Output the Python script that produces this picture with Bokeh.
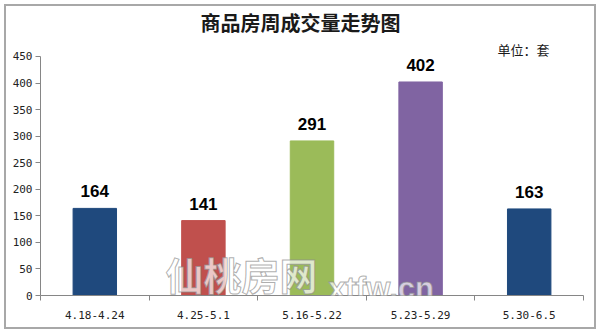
from bokeh.plotting import figure
from bokeh.models import (ColumnDataSource, Range1d, LinearAxis, FixedTicker,
                          Label, LabelSet, InlineStyleSheet)
from bokeh.core.properties import value
from bokeh.embed import file_html
from bokeh.resources import INLINE

categories = ["4.18-4.24", "4.25-5.1", "5.16-5.22", "5.23-5.29", "5.30-6.5"]
values = [164, 141, 291, 402, 163]
colors = ["#1F497D", "#C0504D", "#9BBB59", "#8064A2", "#1F497D"]
y_ticks = [0, 50, 100, 150, 200, 250, 300, 350, 400, 450]
title_text = "商品房周成交量走势图"
unit_text = "单位：套"
watermark_cn = "仙桃房网"
watermark_en = "xtfw.cn"

n = len(categories)
centers = [i + 0.5 for i in range(n)]

src = ColumnDataSource(dict(x=centers, cat=categories, val=values, color=colors,
                            lab=[str(v) for v in values]))

# frame runs to the top of the canvas so the title can live inside it
p = figure(width=600, height=333, x_range=Range1d(0, n),
           y_range=Range1d(0, 555.4), x_axis_type=None, y_axis_type=None,
           output_backend="svg", toolbar_location=None,
           min_border_left=40, min_border_right=17, min_border_top=0,
           min_border_bottom=38)
p.outline_line_color = None
p.background_fill_color = None
p.border_fill_color = None
p.stylesheets = [InlineStyleSheet(css=":host { box-shadow: inset 0 0 0 4px #ffffff, inset 0 0 0 6px #a8a8a8; background: white; }")]

# y axis
yax = LinearAxis(ticker=FixedTicker(ticks=y_ticks), bounds=(0, 450))
yax.axis_line_color = "#868686"
yax.major_tick_line_color = "#868686"
yax.major_tick_out = 5
yax.major_tick_in = 0
yax.minor_tick_line_color = None
yax.major_label_standoff = 3
yax.major_label_text_font = "DejaVu Sans Mono"
yax.major_label_text_font_size = "11px"
yax.major_label_text_color = "#222222"
p.add_layout(yax, "left")

# x axis: labels at category centres, tick marks between categories
xax = LinearAxis(ticker=FixedTicker(ticks=centers, minor_ticks=list(range(n + 1))))
xax.major_label_overrides = {c: categories[i] for i, c in enumerate(centers)}
xax.axis_line_color = "#868686"
xax.major_tick_line_color = None
xax.major_tick_out = 0
xax.minor_tick_line_color = "#868686"
xax.minor_tick_out = 5
xax.minor_tick_in = 0
xax.major_label_standoff = 10
xax.major_label_text_font = "DejaVu Sans Mono"
xax.major_label_text_font_size = "11px"
xax.major_label_text_color = "#222222"
p.add_layout(xax, "below")

p.ygrid.ticker = FixedTicker(ticks=y_ticks)
p.ygrid.grid_line_color = "#8c8c8c"
p.xgrid.grid_line_color = None

p.vbar(x="x", top="val", width=0.4, source=src, fill_color="color",
       line_color="color", line_width=1)

p.add_layout(LabelSet(x="x", y="val", text="lab", source=src,
                      text_align="center", text_baseline="alphabetic",
                      y_offset=11, text_font=value("Liberation Sans"),
                      text_font_style="bold", text_font_size="17px",
                      text_color="black"))

# watermark
p.add_layout(Label(x=1.15, y=41.4, text=watermark_cn,
                   text_font="Noto Sans CJK SC", text_font_size="38px",
                   text_font_style="bold",
                   text_baseline="middle", text_color="#ffffff", text_alpha=0.7,
                   text_outline_color="#8c8c8c"))
p.add_layout(Label(x=2.65, y=13.2, text=watermark_en,
                   text_font="Liberation Sans", text_font_size="31px",
                   text_font_style="bold",
                   text_baseline="alphabetic", text_color="#ffffff", text_alpha=0.7,
                   text_outline_color="#8c8c8c"))

# title and unit
p.add_layout(Label(x=2.394, y=514, text=title_text,
                   text_font="Noto Sans CJK SC", text_font_size="20px",
                   text_font_style="bold", text_align="center",
                   text_baseline="middle", text_color="#1a1a1a"))
p.add_layout(Label(x=4.687, y=463, text=unit_text,
                   text_font="Noto Sans CJK SC", text_font_size="13px",
                   text_align="right", text_baseline="middle",
                   text_color="#1a1a1a"))

open("out.html", "w").write(file_html(p, INLINE))
